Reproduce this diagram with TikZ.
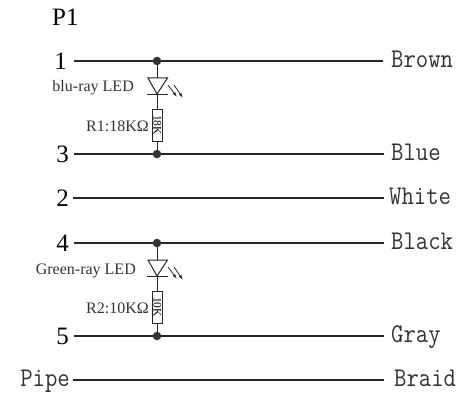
\documentclass[tikz,border=0pt]{standalone}
\usepackage{fontspec}
\setmainfont{Liberation Serif}
\usetikzlibrary{shapes, arrows, arrows.meta}

\begin{document}
\begin{tikzpicture}[
    x=1pt, y=-1pt,
    pinLabel/.style={anchor=east, inner sep=0pt, text height=17pt, text depth=0pt, font=\fontsize{25}{25}\selectfont},
    wireLabel/.style={transform shape, xscale=0.89, inner sep=0pt, text height=17pt, text depth=3.6pt, text=black!80, font=\fontsize{27}{27}\ttfamily},
    partLabel/.style={anchor=east, inner sep=0pt, text=black!80, font=\fontsize{16}{16}\selectfont},
    wire/.style={line width=1.2pt, black!85},
    lead/.style={line width=1pt, black!85},
    joint/.style={circle, fill=black!80, minimum size=8.5pt, inner sep=0pt},
    resistor/.style={draw=black!85, line width=0.8pt, fill=white, minimum width=10.5pt, minimum height=32pt, inner sep=0pt},
    resValue/.style={rotate=-90, inner sep=0pt, font=\fontsize{11.5}{11.5}\selectfont},
    ledBody/.style={line width=1pt, draw=black!85, line join=miter},
    ray/.style={->, >={Latex[length=5pt, width=3pt]}, line width=0.8pt, black!85}
    ]
    \useasboundingbox (0, 0) rectangle (470, 393);

    \node[anchor=west, inner sep=0pt, font=\fontsize{25}{25}\selectfont] (title) at (52, 17) {P1};

    % pins
    \node[pinLabel] (pinA) at (67, 61) {1};
    \node[pinLabel] (pinC) at (69, 154) {3};
    \node[pinLabel] (pinB) at (69, 198) {2};
    \node[pinLabel] (pinD) at (69, 243) {4};
    \node[pinLabel] (pinE) at (69, 336) {5};
    \node[wireLabel, anchor=east] (pinPipe) at (70, 380) {Pipe};

    % colours
    \node[wireLabel, anchor=west] (brown) at (391, 61) {Brown};
    \node[wireLabel, anchor=west] (blue) at (391, 154) {Blue};
    \node[wireLabel, anchor=west] (white) at (389, 198) {White};
    \node[wireLabel, anchor=west] (black) at (391, 243) {Black};
    \node[wireLabel, anchor=west] (gray) at (391, 336) {Gray};
    \node[wireLabel, anchor=west] (braid) at (394, 380) {Braid};

    \draw[wire, shorten <=7pt, shorten >=8pt] (pinA.east) -- (brown.west);
    \draw[wire, shorten <=5pt, shorten >=7pt] (pinC.east) -- (blue.west);
    \draw[wire, shorten <=4pt, shorten >=5pt] (pinB.east) -- (white.west);
    \draw[wire, shorten <=5pt, shorten >=7pt] (pinD.east) -- (black.west);
    \draw[wire, shorten <=5pt, shorten >=7pt] (pinE.east) -- (gray.west);
    \draw[wire, shorten <=3pt, shorten >=10pt] (pinPipe.east) -- (braid.west);

    % first branch
    \node[joint] (jointA) at (157, 61) {};
    \node[joint] (jointC) at (157, 154) {};
    \node[resistor] (resOne) at (157.5, 125) {};
    \node[resValue] (resOneValue) at (resOne) {18K};
    \coordinate (ledOneTop) at (157, 78);
    \coordinate (ledOneBar) at (157, 94);
    \draw[lead] (jointA) -- (ledOneTop);
    \draw[lead] (ledOneBar) -- (resOne.north -| ledOneBar);
    \draw[lead] (resOne.south -| jointC) -- (jointC);
    \draw[ledBody] (148, 78) -- (167.5, 78) -- (ledOneBar) -- cycle;
    \draw[ledBody] (147, 94.5) -- (167.5, 94.5);
    \draw[ray] (168, 85) -- (177, 97);
    \draw[ray] (174, 85) -- (183, 98);
    \node[partLabel] (ledOneLabel) at (134, 88) {blu-ray LED};
    \node[partLabel] (resOneLabel) at (149, 126) {R1:18KΩ};

    % second branch
    \node[joint] (jointD) at (157, 243) {};
    \node[joint] (jointE) at (157, 336) {};
    \node[resistor] (resTwo) at (157.5, 307) {};
    \node[resValue] (resTwoValue) at (resTwo) {10K};
    \coordinate (ledTwoTop) at (157, 260);
    \coordinate (ledTwoBar) at (157, 276);
    \draw[lead] (jointD) -- (ledTwoTop);
    \draw[lead] (ledTwoBar) -- (resTwo.north -| ledTwoBar);
    \draw[lead] (resTwo.south -| jointE) -- (jointE);
    \draw[ledBody] (148, 260) -- (167.5, 260) -- (ledTwoBar) -- cycle;
    \draw[ledBody] (147, 276.5) -- (167.5, 276.5);
    \draw[ray] (168, 267) -- (177, 279);
    \draw[ray] (174, 267) -- (183, 280);
    \node[partLabel] (ledTwoLabel) at (136, 271) {Green-ray LED};
    \node[partLabel] (resTwoLabel) at (149, 308) {R2:10KΩ};
\end{tikzpicture}
\end{document}
